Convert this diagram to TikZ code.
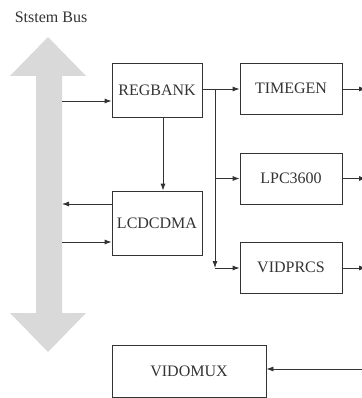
\documentclass[tikz,border=0pt]{standalone}
\usepackage{fontspec}
\setmainfont{Liberation Serif}
\usetikzlibrary{arrows.meta}
\definecolor{ln}{HTML}{333333}
\definecolor{busgray}{HTML}{D9D9D9}
\begin{document}
\begin{tikzpicture}[x=1pt,y=-1pt,
  box/.style={draw=ln, line width=0.8pt, text=ln, inner sep=0pt, font=\fontsize{16}{19}\selectfont},
  arr/.style={draw=ln, line width=0.8pt, -{Latex[length=7pt,width=5pt]}},
  ln/.style={draw=ln, line width=0.8pt}]
\useasboundingbox (0,0) rectangle (361,398);
% system bus double arrow
\fill[busgray] (48,37) -- (86,76) -- (62,76) -- (62,313) -- (86,313) -- (48,352)
  -- (10,313) -- (36,313) -- (36,76) -- (10,76) -- cycle;
\node[text=ln, font=\fontsize{16}{19}\selectfont] (buslabel) at (51,17) {Ststem Bus};
% boxes
\node[box, minimum width=90pt, minimum height=54pt] (regbank) at (157,90) {REGBANK};
\node[box, minimum width=102pt, minimum height=51pt] (timegen) at (291,88.5) {TIMEGEN};
\node[box, minimum width=102pt, minimum height=51pt] (lpc) at (291,178.5) {LPC3600};
\node[box, minimum width=102pt, minimum height=51pt] (vidprcs) at (291,267.5) {VIDPRCS};
\node[box, minimum width=90pt, minimum height=64pt] (lcdcdma) at (157,223) {LCDCDMA};
\node[box, minimum width=154pt, minimum height=52pt] (vidomux) at (189,371) {VIDOMUX};
% coordinates
\coordinate (busR1) at (62,101);
\coordinate (busL1) at (62,204);
\coordinate (busR2) at (62,242);
\coordinate (br) at (215,89);
\coordinate (brlpc) at (215,178.5);
\coordinate (brend) at (215,268);
\coordinate (out1) at (366,89);
\coordinate (out2) at (366,178.5);
\coordinate (out3) at (366,268);
\coordinate (inmux) at (362,369);
% connectors
\draw[arr] (busR1) -- (regbank.west |- busR1);
\draw[arr] (regbank.east |- br) -- (timegen.west |- br);
\draw[arr] (br) -- (brend);
\draw[arr] (brlpc) -- (lpc.west |- brlpc);
\draw[arr] (brend) -- (vidprcs.west |- brend);
\draw[arr] ([xshift=6pt]regbank.south) -- ([xshift=6pt]lcdcdma.north);
\draw[arr] (lcdcdma.west |- busL1) -- (busL1);
\draw[arr] (busR2) -- (lcdcdma.west |- busR2);
\draw[arr] (timegen.east |- out1) -- (out1);
\draw[arr] (lpc.east |- out2) -- (out2);
\draw[arr] (vidprcs.east |- out3) -- (out3);
\draw[arr] (inmux) -- (vidomux.east |- inmux);
\end{tikzpicture}
\end{document}
